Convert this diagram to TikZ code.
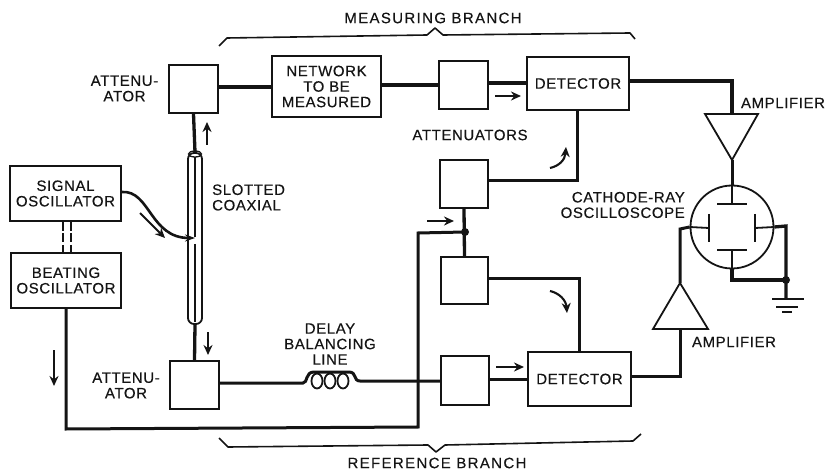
\documentclass[tikz,border=0pt]{standalone}
\usepackage{fontspec}
\setmainfont{Liberation Sans}
\newfontfamily\lblfont[LetterSpace=4,FakeBold=0.35]{Liberation Sans}
\newfontfamily\widefont[LetterSpace=9,FakeBold=0.35]{Liberation Sans}
\usetikzlibrary{arrows.meta,calc}
\definecolor{ink}{HTML}{141414}
\tikzset{
  wire/.style={draw=ink,line width=3.3pt,line join=miter},
  mid wire/.style={draw=ink,line width=3pt,line join=miter},
  thin wire/.style={draw=ink,line width=1.8pt},
  outline/.style={draw=ink,line width=1.8pt},
  boxnode/.style={outline,inner sep=0pt,align=center,text=ink,font=\fontsize{15}{15.5}\selectfont\lblfont},
  lbl/.style={inner sep=0pt,align=center,text=ink,font=\fontsize{15}{15.5}\selectfont\lblfont},
  branch/.style={inner sep=0pt,text=ink,font=\fontsize{15}{16}\selectfont\widefont},
  flow/.style={draw=ink,line width=2.1pt,-{Stealth[length=10pt,width=9pt]}},
  brace/.style={draw=ink,line width=1.6pt,line join=round},
}
\begin{document}
\begin{tikzpicture}[x=1pt,y=-1pt]
\useasboundingbox (0,0) rectangle (827,470);
% boxes
\node[boxnode,minimum width=111pt,minimum height=55pt] (sig) at (65.5,193.5) {SIGNAL\\OSCILLATOR};
\node[boxnode,minimum width=110pt,minimum height=55pt] (beat) at (66,280.5) {BEATING\\OSCILLATOR};
\node[boxnode,minimum width=49pt,minimum height=48pt] (atttop) at (193.5,89) {};
\node[boxnode,minimum width=49pt,minimum height=48pt] (attbot) at (194.5,385) {};
\node[boxnode,minimum width=109pt,minimum height=61pt] (net) at (326.5,86.5) {NETWORK\\TO BE\\MEASURED};
\node[boxnode,minimum width=49pt,minimum height=48pt] (mtop) at (463.5,85) {};
\node[boxnode,minimum width=102pt,minimum height=53pt] (dtop) at (578,83.5) {DETECTOR};
\node[boxnode,minimum width=48pt,minimum height=48pt] (a1) at (464,184) {};
\node[boxnode,minimum width=47pt,minimum height=47pt] (a2) at (464.5,280.5) {};
\node[boxnode,minimum width=48pt,minimum height=49pt] (mbot) at (465,380.5) {};
\node[boxnode,minimum width=103pt,minimum height=54pt] (dbot) at (579.5,379) {DETECTOR};
\node[outline,rounded corners=6pt,minimum width=14pt,minimum height=171pt,inner sep=0pt] (coax) at (195,238.5) {};
\node[outline,circle,minimum size=83pt,inner sep=0pt] (crt) at (732,227) {};
% coax interior
\draw[outline,line width=1.3pt] (195,154) ellipse (6.5pt and 3pt);
\draw[thin wire] (195,157) -- (195,237);
\draw[thin wire] (195,244) -- (195,322);
% amplifiers
\coordinate (ampUa) at (705,114); \coordinate (ampUb) at (758,114); \coordinate (ampUc) at (732,160);
\coordinate (ampUin) at (732,114);
\coordinate (ampLa) at (653,329); \coordinate (ampLb) at (708,329); \coordinate (ampLc) at (680,283);
\coordinate (ampLin) at (680,329);
\draw[outline] (ampUa) -- (ampUb) -- (ampUc) -- cycle;
\draw[outline] (ampLa) -- (ampLb) -- (ampLc) -- cycle;
% plates
\coordinate (pT) at (732,204); \coordinate (pB) at (732,250); \coordinate (pL) at (709,228); \coordinate (pR) at (755,228);
\coordinate (gnd) at (786,299); \coordinate (jg) at (786,280); \coordinate (jr) at (465,232);
\draw[thin wire] (717,204) -- (747,204);
\draw[thin wire] (717,250) -- (747,250);
\draw[thin wire] (709,214) -- (709,242);
\draw[thin wire] (755,214) -- (755,242);
\draw[thin wire] (crt.north) -- (pT);
\draw[thin wire] (pB) -- (crt.south);
\draw[thin wire] (pL) -- (crt.west);
\draw[thin wire] (pR) -- (crt.east);
% ground
\draw[thin wire] (772,299) -- (804,299);
\draw[thin wire] (776,307) -- (798,307);
\draw[thin wire] (782,312) -- (792,312);
% wires
\draw[wire] (coax.north) -- (atttop.south);
\draw[wire] (coax.south) -- (attbot.north);
\draw[wire] (atttop.east |- 0,87) -- (net.west |- 0,87);
\draw[wire] (net.east |- 0,85) -- (mtop.west |- 0,85);
\draw[wire] (mtop.east |- 0,83) -- (dtop.west |- 0,83);
\draw[wire] (dtop.east |- 0,81) -- (732,81) -- (ampUin);
\draw[mid wire] (ampUc) -- (crt.north);
\draw[mid wire] (dtop.south -| 577,0) -- (577,180.5) -- (a1.east |- 0,180.5);
\draw[mid wire] (a2.east |- 0,279) -- (579,279) -- (dbot.north -| 579,0);
\draw[wire] (a1.south) -- (a2.north);
\draw[mid wire] (beat.south -| 66,0) -- (66,429) -- (418,427) -- (418,233) -- (jr);
\fill[ink] (jr) circle (4pt);
\draw[mid wire] (attbot.east |- 0,383) -- (303,383)
  .. controls (308,383) and (305,372) .. (314,372) -- (349,372)
  .. controls (357,372) and (353,381) .. (360,381) -- (mbot.west |- 0,381);
\foreach \cx in {317,330,343} \draw[draw=ink,line width=1.8pt] (\cx,381) ellipse (5.5pt and 7.5pt);
\draw[mid wire] (mbot.east |- 0,379) -- (dbot.west |- 0,379);
\draw[mid wire] (dbot.east |- 0,376) -- (680,376) -- (ampLin);
\draw[mid wire] (ampLc) -- (680,229) -- (crt.west);
\draw[wire] (crt.east) -- (786,226) -- (gnd);
\draw[wire] (crt.south) -- (732,280) -- (jg);
\fill[ink] (jg) circle (4pt);
% ganged oscillators
\draw[thin wire,dash pattern=on 9pt off 2.5pt] (sig.south -| 63,0) -- (beat.north -| 63,0);
\draw[thin wire,dash pattern=on 9pt off 2.5pt] (sig.south -| 71,0) -- (beat.north -| 71,0);
% signal feed
\draw[draw=ink,line width=2.6pt,-{Stealth[length=10pt,width=7pt]}] (sig.east |- 0,192) .. controls (150,190) and (150,238) .. (coax.center |- 0,238);
% flow arrows
\draw[flow] (140,213) -- (165,238);
\draw[flow] (207,145) -- (207,122);
\draw[flow] (208,332) -- (208,355);
\draw[flow] (54,350) -- (54,386);
\draw[flow] (495,96) -- (521,96);
\draw[flow] (496,367) -- (524,367);
\draw[flow] (427,221) -- (454,221);
\draw[flow] (550,168) .. controls (559,166) and (565,160) .. (566,147);
\draw[flow] (550,291) .. controls (559,293) and (566,300) .. (567,313);
% braces
\draw[brace] (219,46) -- (227,38) -- (427,35) -- (435,28) -- (443,35) -- (630,33) -- (635,39);
\draw[brace] (219,438) -- (228,447) -- (428,445) -- (436,452) -- (445,445) -- (633,441) -- (641,434);
% labels
\node[branch] (lm) at (433,18) {MEASURING BRANCH};
\node[branch] (lr) at (437,463) {REFERENCE BRANCH};
\node[lbl] (l1) at (124.5,88.5) {ATTENU-\\ATOR};
\node[lbl] (l2) at (126,385.5) {ATTENU-\\ATOR};
\node[lbl,align=left,anchor=west] (l3) at (212,197.5) {SLOTTED\\COAXIAL};
\node[lbl] (l4) at (470,135) {ATTENUATORS};
\node[lbl] (l5) at (783,103) {AMPLIFIER};
\node[lbl] (l6) at (734,342) {AMPLIFIER};
\node[lbl,align=right,anchor=east] (l7) at (685,205) {CATHODE-RAY\\OSCILLOSCOPE};
\node[lbl] (l8) at (330,344) {DELAY\\BALANCING\\LINE};
\end{tikzpicture}
\end{document}
